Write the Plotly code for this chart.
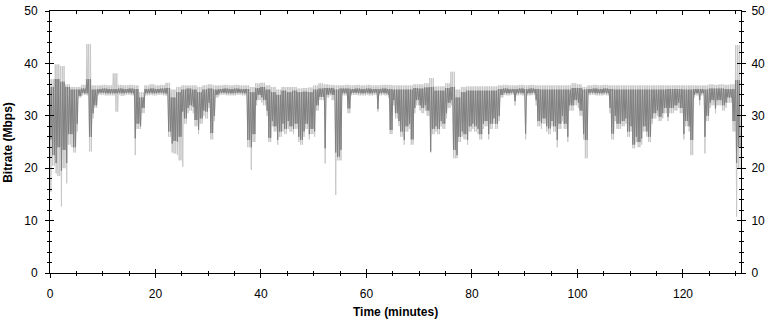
import plotly.graph_objects as go

# ---- data (per minute: upper value, two half-minute lows) ----
minutes = list(range(131))

dark_hi = [
    35.5, 37.0, 36.5, 35.5, 35.0, 35.0, 35.2, 37.0, 35.0, 35.1,
    35.2, 35.1, 35.1, 35.2, 35.1, 35.2, 35.1, 33.5, 35.1, 35.2,
    35.1, 35.2, 35.3, 33.5, 34.5, 35.0, 35.2, 35.0, 34.5, 35.0,
    35.2, 35.0, 35.1, 35.2, 35.1, 35.2, 35.1, 35.1, 34.5, 35.3,
    35.5, 35.0, 34.5, 34.0, 34.8, 34.5, 34.8, 34.5, 34.6, 34.5,
    35.0, 35.2, 35.3, 35.3, 35.0, 35.2, 35.2, 35.1, 35.2, 35.1,
    35.2, 35.1, 35.1, 35.2, 35.1, 35.0, 35.0, 35.0, 35.0, 35.3,
    35.2, 35.4, 35.5, 34.8, 34.8, 35.3, 35.5, 33.5, 34.5, 34.8,
    34.8, 34.8, 34.8, 34.8, 34.8, 35.1, 35.2, 35.1, 35.1, 35.2,
    35.1, 35.2, 35.1, 35.0, 35.0, 35.0, 35.0, 35.0, 35.0, 35.3,
    35.3, 35.0, 35.1, 35.2, 35.1, 35.2, 35.1, 35.0, 35.0, 35.0,
    35.0, 35.0, 35.0, 35.0, 35.0, 35.0, 35.0, 35.1, 35.1, 35.1,
    35.0, 35.0, 35.1, 35.1, 35.0, 35.2, 35.2, 35.2, 35.1, 35.1,
    36.8,
]
dark_lo_a = [
    25.5, 21.0, 19.5, 21.0, 26.5, 28.5, 34.4, 34.3, 30.5, 34.3,
    34.4, 34.3, 34.3, 34.4, 34.3, 34.4, 25.7, 28.0, 34.3, 34.4,
    34.3, 34.4, 34.2, 24.7, 25.0, 30.8, 31.5, 31.7, 27.3, 31.0,
    32.5, 30.0, 34.3, 34.4, 34.3, 34.3, 34.4, 34.3, 24.0, 33.0,
    33.5, 31.0, 29.0, 25.4, 28.5, 29.0, 27.5, 26.0, 27.0, 26.5,
    27.0, 33.6, 23.8, 34.3, 23.0, 23.5, 34.3, 34.3, 34.4, 34.3,
    34.4, 34.3, 31.3, 34.4, 34.0, 33.0, 29.0, 25.4, 28.5, 31.5,
    32.0, 32.0, 23.2, 28.0, 29.0, 30.5, 33.0, 22.5, 27.0, 25.4,
    28.5, 27.5, 28.5, 26.5, 29.5, 30.0, 34.4, 34.3, 32.8, 34.4,
    26.6, 34.3, 33.0, 28.6, 28.0, 29.0, 25.4, 30.0, 26.0, 32.0,
    32.5, 26.5, 34.3, 34.4, 34.3, 34.4, 31.5, 30.0, 28.5, 29.5,
    28.0, 26.0, 25.7, 27.0, 29.5, 31.0, 30.5, 29.8, 31.5, 32.5,
    26.5, 28.0, 34.0, 33.0, 26.0, 32.5, 31.4, 33.0, 32.5, 33.5,
    21.0,
]
dark_lo_b = [
    22.5, 24.0, 23.5, 26.5, 24.0, 33.8, 34.3, 26.0, 32.0, 34.4,
    34.3, 34.3, 34.3, 34.3, 34.4, 34.3, 28.5, 31.5, 34.3, 34.3,
    34.4, 34.3, 27.0, 25.2, 26.0, 29.5, 32.0, 29.2, 29.5, 30.8,
    26.7, 34.0, 34.4, 34.3, 34.3, 34.4, 34.3, 25.4, 26.5, 34.0,
    33.0, 25.8, 28.0, 27.0, 27.5, 28.0, 28.5, 25.4, 28.5, 27.5,
    32.0, 33.6, 34.0, 34.0, 22.2, 34.3, 31.4, 34.4, 34.3, 34.3,
    34.3, 34.4, 34.3, 34.3, 27.3, 30.5, 27.0, 28.0, 25.5, 33.0,
    31.5, 31.0, 27.5, 27.5, 28.5, 32.5, 23.5, 26.0, 26.5, 28.0,
    28.0, 26.5, 29.0, 28.5, 28.5, 34.0, 34.3, 34.4, 34.3, 34.3,
    34.3, 34.4, 29.0, 29.5, 27.6, 28.0, 28.5, 28.5, 32.0, 33.0,
    31.0, 25.4, 34.4, 34.3, 34.3, 34.3, 26.6, 28.5, 29.0, 27.0,
    24.5, 25.0, 28.0, 26.0, 30.5, 29.8, 31.5, 31.5, 32.0, 31.5,
    29.0, 25.4, 34.3, 34.3, 30.0, 33.0, 33.0, 32.0, 33.5, 29.0,
    24.0,
]
light_hi = [
    37.0, 39.8, 39.5, 36.0, 35.5, 35.5, 35.9, 43.7, 35.8, 35.8,
    35.9, 35.8, 38.1, 35.9, 35.8, 35.9, 35.8, 34.5, 35.8, 36.0,
    35.8, 35.9, 36.3, 35.0, 35.5, 35.8, 35.8, 35.8, 35.5, 35.8,
    36.0, 35.8, 35.8, 35.9, 35.8, 35.9, 35.8, 35.8, 35.5, 36.2,
    36.3, 35.8, 35.5, 35.0, 35.5, 35.5, 35.5, 35.2, 35.3, 35.4,
    35.8, 36.2, 36.0, 35.9, 35.8, 35.8, 35.9, 35.8, 35.9, 35.8,
    35.9, 35.8, 35.8, 35.9, 35.9, 35.8, 35.8, 35.8, 35.8, 36.0,
    36.0, 36.2, 37.2, 35.6, 35.6, 36.2, 38.4, 35.0, 35.5, 35.6,
    35.6, 35.6, 35.6, 35.6, 35.6, 35.8, 35.9, 35.8, 35.8, 35.9,
    35.8, 35.9, 35.8, 35.8, 35.8, 35.8, 35.8, 35.8, 35.8, 36.2,
    36.0, 35.5, 35.8, 35.9, 35.8, 35.9, 35.8, 35.8, 35.8, 35.8,
    35.8, 35.8, 35.8, 35.8, 35.8, 35.8, 35.8, 35.8, 35.8, 35.8,
    35.8, 35.8, 35.8, 35.8, 35.8, 36.0, 35.9, 36.0, 35.9, 36.0,
    43.5,
]
light_lo_a = [
    15.5, 19.0, 12.7, 17.1, 24.0, 27.0, 33.9, 33.9, 29.5, 33.9,
    34.0, 33.9, 33.9, 34.0, 33.9, 34.0, 22.5, 27.5, 33.9, 34.0,
    33.9, 34.0, 33.8, 23.0, 22.5, 20.3, 30.5, 30.5, 26.5, 30.0,
    31.5, 29.0, 33.9, 34.0, 33.9, 33.9, 34.0, 33.9, 19.7, 32.0,
    32.5, 30.0, 28.0, 24.5, 27.0, 27.5, 26.5, 25.0, 26.0, 25.5,
    26.0, 33.0, 20.9, 33.9, 14.9, 21.5, 33.9, 33.9, 34.0, 33.9,
    34.0, 33.9, 30.8, 34.0, 33.5, 32.0, 28.0, 24.5, 27.5, 30.5,
    31.0, 31.0, 23.0, 27.0, 28.0, 29.5, 32.0, 21.9, 26.0, 24.5,
    27.5, 26.5, 27.5, 25.5, 28.5, 29.0, 34.0, 33.9, 32.0, 34.0,
    25.5, 33.9, 32.0, 27.5, 27.0, 28.0, 24.0, 29.0, 25.0, 31.0,
    31.5, 25.5, 33.9, 34.0, 33.9, 34.0, 30.5, 29.0, 27.5, 28.5,
    27.0, 25.0, 24.5, 26.0, 28.5, 30.0, 29.5, 29.0, 30.5, 31.5,
    25.5, 27.0, 33.5, 32.0, 22.8, 31.5, 30.5, 32.0, 31.5, 32.5,
    10.8,
]
light_lo_b = [
    20.5, 18.5, 20.0, 24.5, 23.0, 33.5, 34.0, 23.2, 31.5, 34.0,
    33.9, 33.9, 30.8, 33.8, 34.0, 33.9, 27.5, 30.5, 33.9, 33.9,
    34.0, 33.9, 26.0, 22.8, 21.5, 28.5, 31.0, 28.0, 28.5, 29.5,
    25.5, 33.5, 34.0, 33.9, 33.9, 34.0, 33.9, 24.0, 25.0, 33.0,
    32.0, 25.0, 27.0, 26.0, 26.5, 27.0, 27.5, 24.5, 27.5, 26.5,
    31.0, 33.0, 33.5, 33.0, 21.5, 33.9, 30.5, 34.0, 33.9, 33.9,
    33.9, 34.0, 33.9, 33.9, 26.5, 29.5, 26.0, 27.0, 24.5, 32.0,
    30.5, 30.0, 26.5, 26.5, 27.5, 31.5, 21.9, 25.0, 25.5, 27.0,
    27.0, 25.5, 28.0, 27.5, 27.5, 33.5, 33.9, 34.0, 33.9, 33.9,
    33.9, 34.0, 28.0, 28.5, 26.5, 27.0, 27.5, 27.5, 31.0, 32.0,
    30.0, 21.9, 34.0, 33.9, 33.9, 33.9, 25.5, 27.5, 28.0, 26.0,
    23.8, 24.0, 27.0, 25.0, 29.5, 29.0, 30.5, 30.5, 31.0, 30.5,
    28.0, 22.5, 33.9, 33.9, 29.0, 32.0, 32.0, 31.0, 32.5, 27.0,
    20.0,
]

x_ticks = [0, 20, 40, 60, 80, 100, 120]
y_ticks = [0, 10, 20, 30, 40, 50]
x_range = [0, 131]
y_range = [0, 50]


def trace_path(ts, hi, lo_a, lo_b, steps=6):
    """Draw each minute as up/down strokes between its high and its lows."""
    xs, ys = [], []
    for t, h, la, lb in zip(ts, hi, lo_a, lo_b):
        for k in range(steps):
            frac = k / steps
            xs.append(t + frac)
            if k % 2 == 0:
                ys.append(h)
            else:
                ys.append(la if frac < 0.5 else lb)
    return xs, ys


lx, ly = trace_path(minutes, light_hi, light_lo_a, light_lo_b)
dx, dy = trace_path(minutes, dark_hi, dark_lo_a, dark_lo_b)

fig = go.Figure()
fig.add_trace(go.Scatter(x=lx, y=ly, mode="lines",
                         line=dict(color="#c8c8c8", width=1),
                         hoverinfo="skip", showlegend=False))
fig.add_trace(go.Scatter(x=dx, y=dy, mode="lines",
                         line=dict(color="#808080", width=1),
                         hoverinfo="skip", showlegend=False))
# helper traces so the extra (crossing-tick) axes are drawn
for xa, ya in [("x2", "y3"), ("x3", "y4"), ("x", "y2")]:
    fig.add_trace(go.Scatter(x=[-10], y=[-10], mode="markers", xaxis=xa, yaxis=ya,
                             marker=dict(size=1, color="rgba(0,0,0,0)"),
                             hoverinfo="skip", showlegend=False))

FONT = "Liberation Sans, Arial, sans-serif"
tickfont = dict(family=FONT, size=12, color="black")

base = dict(showgrid=False, zeroline=False, tickcolor="black", tickwidth=1,
            fixedrange=True, autorange=False, automargin=False)

fig.update_layout(
    template="none",
    width=770, height=320,
    margin=dict(l=50, r=29, t=11, b=47, autoexpand=False),
    paper_bgcolor="white", plot_bgcolor="white",
    font=dict(family=FONT, size=12, color="black"),
    xaxis=dict(base, range=x_range, tickvals=x_ticks, ticks="outside", ticklen=4,
               showline=True, linecolor="black", linewidth=1, side="bottom",
               tickfont=tickfont, ticklabelstandoff=6,
               minor=dict(dtick=5, tick0=0, ticks="outside", ticklen=2,
                          tickcolor="black", showgrid=False)),
    xaxis2=dict(base, range=x_range, tickvals=x_ticks, ticks="inside", ticklen=4,
                overlaying="x", side="bottom", anchor="y3", showticklabels=False,
                showline=False,
                minor=dict(dtick=5, tick0=0, ticks="inside", ticklen=2,
                           tickcolor="black", showgrid=False)),
    xaxis3=dict(base, range=x_range, tickvals=x_ticks, ticks="inside", ticklen=4,
                overlaying="x", side="top", anchor="y4", showticklabels=False,
                showline=True, linecolor="black", linewidth=1,
                minor=dict(dtick=5, tick0=0, ticks="inside", ticklen=3,
                           tickcolor="black", showgrid=False)),
    yaxis=dict(base, range=y_range, tickvals=y_ticks, ticks="outside", ticklen=4,
               showline=True, linecolor="black", linewidth=1, side="left",
               tickfont=tickfont, ticklabelstandoff=5,
               minor=dict(dtick=2, tick0=0, ticks="outside", ticklen=2,
                          tickcolor="black", showgrid=False)),
    yaxis2=dict(base, range=y_range, tickvals=y_ticks, ticks="outside", ticklen=4,
                overlaying="y", side="right", anchor="x",
                showline=True, linecolor="black", linewidth=1,
                tickfont=tickfont, ticklabelstandoff=3,
                minor=dict(dtick=2, tick0=0, ticks="outside", ticklen=2,
                           tickcolor="black", showgrid=False)),
    yaxis3=dict(base, range=y_range, tickvals=y_ticks, ticks="inside", ticklen=4,
                overlaying="y", side="left", anchor="x2", showticklabels=False,
                showline=False,
                minor=dict(dtick=2, tick0=0, ticks="inside", ticklen=2,
                           tickcolor="black", showgrid=False)),
    yaxis4=dict(base, range=y_range, tickvals=y_ticks, ticks="inside", ticklen=4,
                overlaying="y", side="right", anchor="x3", showticklabels=False,
                showline=False,
                minor=dict(dtick=2, tick0=0, ticks="inside", ticklen=2,
                           tickcolor="black", showgrid=False)),
    annotations=[
        dict(text="<b>Time (minutes)</b>", xref="paper", yref="paper",
             x=0.5, y=-0.149, xanchor="center", yanchor="middle", showarrow=False,
             font=dict(family=FONT, size=12, color="black")),
        dict(text="<b>Bitrate (Mbps)</b>", xref="paper", yref="paper",
             x=-0.061, y=0.5, xanchor="center", yanchor="middle", showarrow=False,
             textangle=-90, font=dict(family=FONT, size=12, color="black")),
    ],
)

fig.write_html("out.html",
               config={"displayModeBar": False, "staticPlot": True},
               post_script="document.body.style.margin='0';"
                           "document.body.style.padding='0';")
